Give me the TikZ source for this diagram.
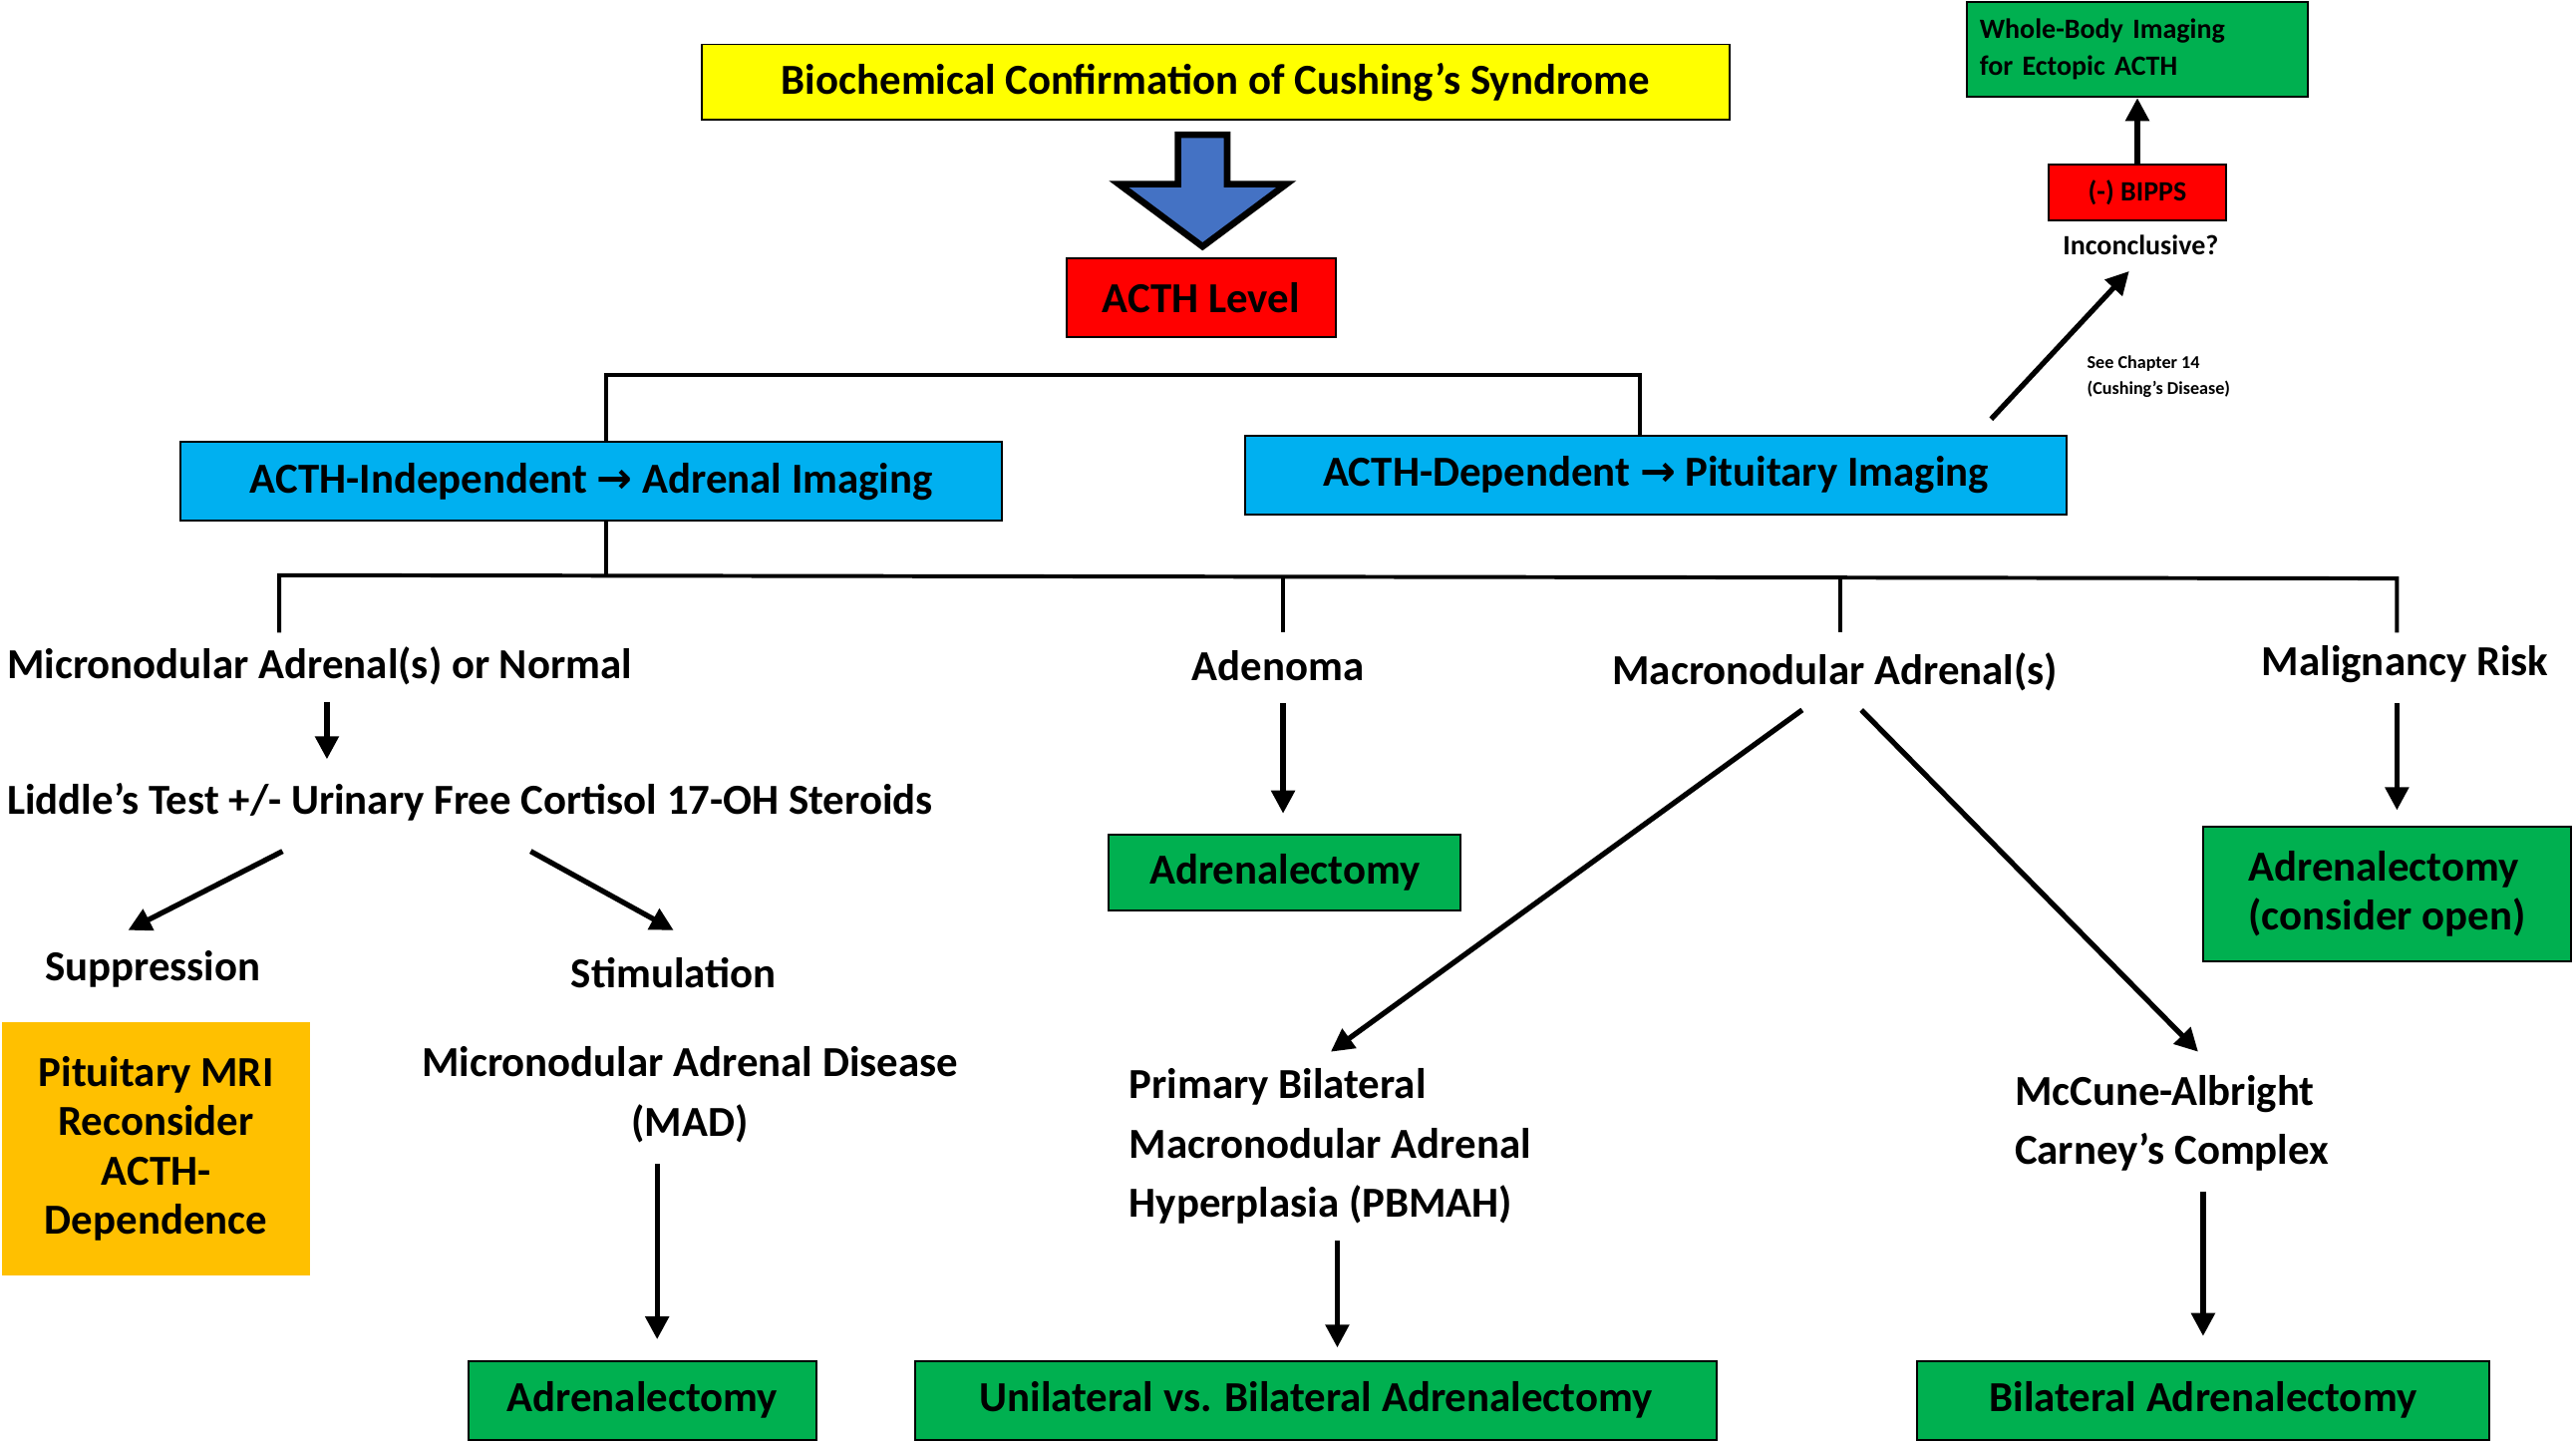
\documentclass[tikz,border=0pt]{standalone}
\usepackage{fontspec}
\setmainfont{Carlito}
\newfontfamily\djv{DejaVu Sans}
\usetikzlibrary{arrows.meta}
\begin{document}
\begin{tikzpicture}[x=0.5pt,y=-0.5pt,
  box/.style={draw=black,line width=0.6pt,inner sep=0pt,font=\bfseries\fontsize{13}{15}\selectfont},
  txt/.style={font=\bfseries\fontsize{13}{18}\selectfont,inner sep=0pt},
  ln/.style={line width=1.2pt},
  ar/.style={line width=1.6pt,-{Triangle[length=7pt,width=7pt]}}]
\useasboundingbox (0,0) rectangle (1568,877);
\definecolor{yel}{RGB}{255,255,0}\definecolor{red1}{RGB}{255,0,0}
\definecolor{cy}{RGB}{0,176,240}\definecolor{gr}{RGB}{0,176,80}
\definecolor{org}{RGB}{255,192,0}\definecolor{blu}{RGB}{68,114,196}
% top
\node[box,fill=yel,minimum width=313pt,minimum height=23pt] (bio) at (740,50) {Biochemical Confirmation of Cushing’s Syndrome};
\draw[fill=blu,line width=2pt] (717,82) -- (747,82) -- (747,112) -- (783,112) -- (732,150) -- (681,112) -- (717,112) -- cycle;
\node[box,fill=red1,minimum width=82pt,minimum height=24pt] (acth) at (731,181) {ACTH Level};
\node[box,fill=cy,minimum width=250pt,minimum height=24pt] (ind) at (360,293) {ACTH-Independent {\djv\bfseries →} Adrenal Imaging};
\node[box,fill=cy,minimum width=250pt,minimum height=24pt] (dep) at (1008,289) {ACTH-Dependent {\djv\bfseries →} Pituitary Imaging};
\draw[ln] (369,269) -- (369,228) -- (998,228) -- (998,265);
% ectopic
\node[box,fill=gr,minimum width=104pt,minimum height=29pt,align=left,font=\bfseries\fontsize{8.5}{11}\selectfont,text width=96pt] (wb) at (1301,30) {Whole-Body Imaging\\for Ectopic ACTH};
\node[box,fill=red1,minimum width=54pt,minimum height=17pt,font=\bfseries\fontsize{8.5}{10}\selectfont] (bip) at (1301,117) {(-) BIPPS};
\node[txt,font=\bfseries\fontsize{8.5}{10}\selectfont] (inc) at (1303,149) {Inconclusive?};
\draw[ar] (bip.north) -- (wb.south);
\coordinate (s1) at (1212,255);
\draw[ar] (s1) -- (1296,165);
\node[align=left,font=\bfseries\fontsize{5.5}{8}\selectfont,anchor=west,inner sep=0pt] (see) at (1270,229) {See Chapter 14\\(Cushing’s Disease)};
% branch
\draw[ln] (369,317) -- (369,350);
\draw[ln] (170,385) -- (170,350) -- (1459,352) -- (1459,385);
\draw[ln] (781,351) -- (781,385);
\draw[ln] (1120,351) -- (1120,385);
\node[txt,anchor=west] (micro) at (4,405) {Micronodular Adrenal(s) or Normal};
\node[txt] (aden) at (778,405) {Adenoma};
\node[txt] (macro) at (1117,409) {Macronodular Adrenal(s)};
\node[txt] (mal) at (1464,404) {Malignancy Risk};
% micronodular
\draw[ar] (199,427) -- (199,462);
\node[txt,anchor=west] (lid) at (4,488) {Liddle’s Test +/- Urinary Free Cortisol 17-OH Steroids};
\draw[ar] (172,518) -- (78,566);
\draw[ar] (323,518) -- (410,566);
\node[txt] (sup1) at (93,590) {Suppression};
\node[txt] (stim) at (410,592) {Stimulation};
\node[box,draw=none,fill=org,minimum width=94pt,minimum height=77pt,align=center] (mri) at (95,699) {Pituitary MRI\\Reconsider\\ACTH-\\Dependence};
\node[txt,align=center] (mad) at (420,666) {Micronodular Adrenal Disease\\(MAD)};
\draw[ar] (400,708) -- (400,815);
\node[box,fill=gr,minimum width=106pt,minimum height=24pt] (adr1) at (391,852) {Adrenalectomy};
% adenoma
\draw[ar] (781,428) -- (781,495);
\node[box,fill=gr,minimum width=107pt,minimum height=23pt] (adr2) at (782,531) {Adrenalectomy};
% macro
\draw[ar] (1097,432) -- (810,640);
\draw[ar] (1133,432) -- (1338,640);
\node[txt,align=left,anchor=north west] (pb) at (687,650) {Primary Bilateral\\Macronodular Adrenal\\Hyperplasia (PBMAH)};
\draw[ar] (814,755) -- (814,820);
\node[box,fill=gr,minimum width=244pt,minimum height=24pt] (uni) at (801,852) {Unilateral vs. Bilateral Adrenalectomy};
\node[txt,align=left,anchor=north west] (mc) at (1226,654) {McCune-Albright\\Carney’s Complex};
\draw[ar] (1341,725) -- (1341,813);
\node[box,fill=gr,minimum width=174pt,minimum height=24pt] (bil) at (1341,852) {Bilateral Adrenalectomy};
% malignancy
\draw[ar] (1459,428) -- (1459,493);
\node[box,fill=gr,minimum width=112pt,minimum height=41pt,align=left] (adr3) at (1453,544) {Adrenalectomy\\(consider open)};
\end{tikzpicture}
\end{document}
